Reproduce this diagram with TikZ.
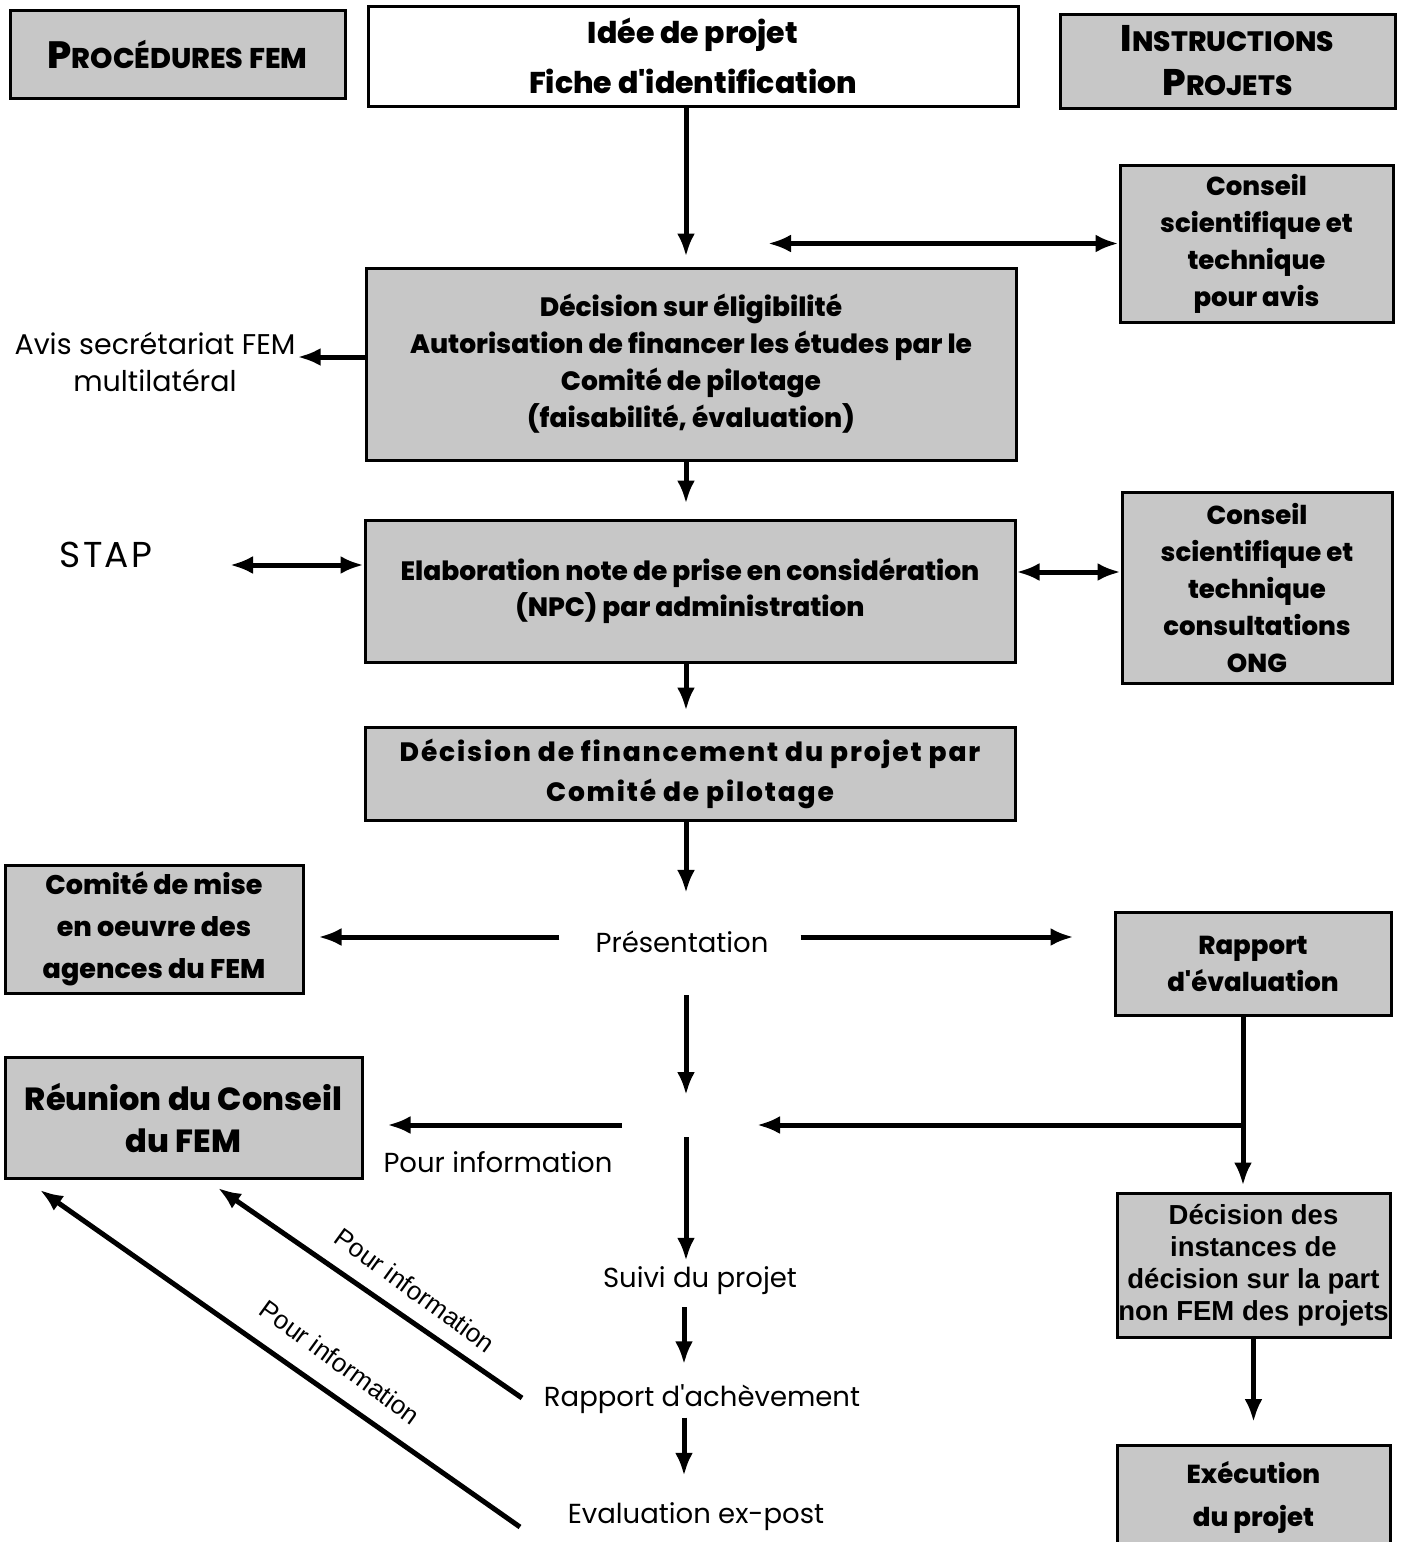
\documentclass[tikz,border=0pt]{standalone}
\usepackage{fontspec}
\setmainfont{Poppins}[BoldFont={Poppins ExtraBold}, Ligatures=TeXOff]
\newfontfamily\arialf{Liberation Sans}
\usetikzlibrary{arrows.meta}
\begin{document}
\begin{tikzpicture}[x=1pt,y=-1pt,
  box/.style={draw=black, line width=3pt, fill=black!22, align=center, inner sep=0pt,
    font=\fontsize{26}{37}\selectfont\bfseries},
  wbox/.style={box, fill=white},
  plain/.style={align=center, inner sep=2pt, font=\fontsize{27.5}{37}\selectfont},
  lab/.style={inner sep=0pt, font=\arialf\fontsize{26}{30}\selectfont},
  arr/.style={line width=5pt, -{Latex[length=23pt,width=18pt]}},
  darr/.style={line width=5pt, {Latex[length=23pt,width=18pt]}-{Latex[length=23pt,width=18pt]}},
]
\useasboundingbox (0,0) rectangle (1405,1542);
\fill[white] (0,0) rectangle (1405,1542);
\clip (0,0) rectangle (1405,1542);

% header boxes
\node[box, minimum width=335, minimum height=88] (proc) at (177.5,54)
  {\fontsize{38}{37}\selectfont P\fontsize{28.5}{37}\selectfont ROCÉDURES FEM};
\node[wbox, minimum width=650, minimum height=100, font=\fontsize{30}{50}\selectfont\bfseries] (idee) at (693,56)
  {Idée de projet\\Fiche d'identification};
\node[box, minimum width=335, minimum height=94, font=\fontsize{28}{44}\selectfont\bfseries] (instr) at (1227.5,61)
  {\fontsize{37}{44}\selectfont I\fontsize{28}{44}\selectfont NSTRUCTIONS\\\fontsize{37}{44}\selectfont P\fontsize{28}{44}\selectfont ROJETS};

% main column
\node[box, minimum width=273, minimum height=157] (cst1) at (1256.5,243.5)
  {Conseil\\scientifique et\\technique\\pour avis};
\node[box, minimum width=650, minimum height=192, font=\fontsize{26.5}{37}\selectfont\bfseries] (dec) at (691,364)
  {Décision sur éligibilité\\Autorisation de financer les études par le\\Comité de pilotage\\(faisabilité, évaluation)};
\node[plain, font=\fontsize{28.5}{37}\selectfont] (avis) at (155,362) {Avis secrétariat FEM\\multilatéral};
\node[plain, font=\fontsize{36}{37}\selectfont\addfontfeatures{LetterSpace=6}] (stap) at (106,555) {STAP};
\node[box, minimum width=650, minimum height=142, font=\fontsize{26.5}{36}\selectfont\bfseries] (elab) at (690,591)
  {Elaboration note de prise en considération\\(NPC) par administration};
\node[box, minimum width=270, minimum height=191] (cst2) at (1257,587.5)
  {Conseil\\scientifique et\\technique\\consultations\\ONG};
\node[box, minimum width=650, minimum height=93, font=\fontsize{26.5}{40}\selectfont\bfseries] (fin) at (690,773.5)
  {\addfontfeatures{LetterSpace=7}Décision de financement du projet par\\\addfontfeatures{LetterSpace=7}Comité de pilotage};

\node[plain] (pres) at (682,942) {Présentation};
\node[box, minimum width=298, minimum height=128, font=\fontsize{27}{42}\selectfont\bfseries] (comite) at (154,929)
  {Comité de mise\\en oeuvre des\\agences du FEM};
\node[box, minimum width=276, minimum height=103] (rapev) at (1253,963.5)
  {Rapport\\d'évaluation};
\node[box, minimum width=357, minimum height=121, font=\fontsize{32}{42}\selectfont\bfseries] (reunion) at (183.5,1117.5)
  {Réunion du Conseil\\du FEM};
\node[plain] (pinfo) at (498,1162) {Pour information};
\node[box, minimum width=273, minimum height=144, font=\arialf\fontsize{27.5}{32}\selectfont\bfseries] (inst) at (1253.5,1265)
  {Décision des\\instances de\\décision sur la part\\non FEM des projets};
\node[plain] (suivi) at (700,1281) {Suivi du projet};
\node[plain] (achev) at (702,1399) {Rapport d'achèvement};
\node[plain] (eval) at (696,1517) {Evaluation ex-post};
\node[box, minimum width=273, minimum height=104, font=\fontsize{26}{43}\selectfont\bfseries] (exec) at (1253.5,1497)
  {Exécution\\du projet};

% coordinates
\coordinate (sx) at (686,0);
\coordinate (sx2) at (684,0);
\coordinate (c1) at (768,243.5);
\coordinate (stapR) at (230,565);
\coordinate (y572) at (0,572);
\coordinate (cross) at (686,1125);
\coordinate (rx) at (1243,1125);
\coordinate (d1a) at (522,1398);
\coordinate (r1) at (218,1188);
\coordinate (d2a) at (520,1527);
\coordinate (r2) at (40,1190);

% connectors
\draw[arr, shorten >=10pt] (idee.south -| sx) -- (dec.north -| sx);
\draw[darr] (c1) -- (cst1.west);
\draw[arr] (dec.west |- 0,357) -- (avis.east |- 0,357);
\draw[arr, shorten >=15pt] (dec.south -| sx) -- (elab.north -| sx);
\draw[darr] (stapR) -- (elab.west |- stapR);
\draw[darr] (elab.east |- y572) -- (cst2.west |- y572);
\draw[arr, shorten >=15pt] (elab.south -| sx) -- (fin.north -| sx);
\draw[arr, shorten >=36pt] (fin.south -| sx) -- (pres.north -| sx);
\draw[arr, shorten <=34pt, shorten >=14pt] (pres.west |- 0,937) -- (comite.east |- 0,937);
\draw[arr, shorten <=30pt, shorten >=40pt] (pres.east |- 0,937) -- (rapev.west |- 0,937);
\draw[arr, shorten <=40pt, shorten >=30pt] (pres.south -| sx) -- (cross);
\draw[arr, shorten <=12pt, shorten >=4pt] (cross) -- (suivi.north -| sx);
\draw[arr, shorten <=64pt, shorten >=24pt] (cross) -- (reunion.east |- cross);
\draw[arr, shorten >=6pt] (rapev.south -| rx) -- (inst.north -| rx);
\draw[arr, shorten >=71pt] (rx) -- (cross);
\draw[arr, shorten <=10pt, shorten >=18pt] (suivi.south -| sx2) -- (achev.north -| sx2);
\draw[arr, shorten <=2pt, shorten >=25pt] (achev.south -| sx2) -- (eval.north -| sx2);
\draw[arr] (inst.south) -- ([yshift=-2pt]exec.north |- 0,1420);
\draw[arr] (d1a) -- (r1);
\draw[arr] (d2a) -- (r2);

\node[lab, rotate=-36] (lab1) at (415,1290) {Pour information};
\node[lab, rotate=-36] (lab2) at (340,1362) {Pour information};
\end{tikzpicture}
\end{document}
